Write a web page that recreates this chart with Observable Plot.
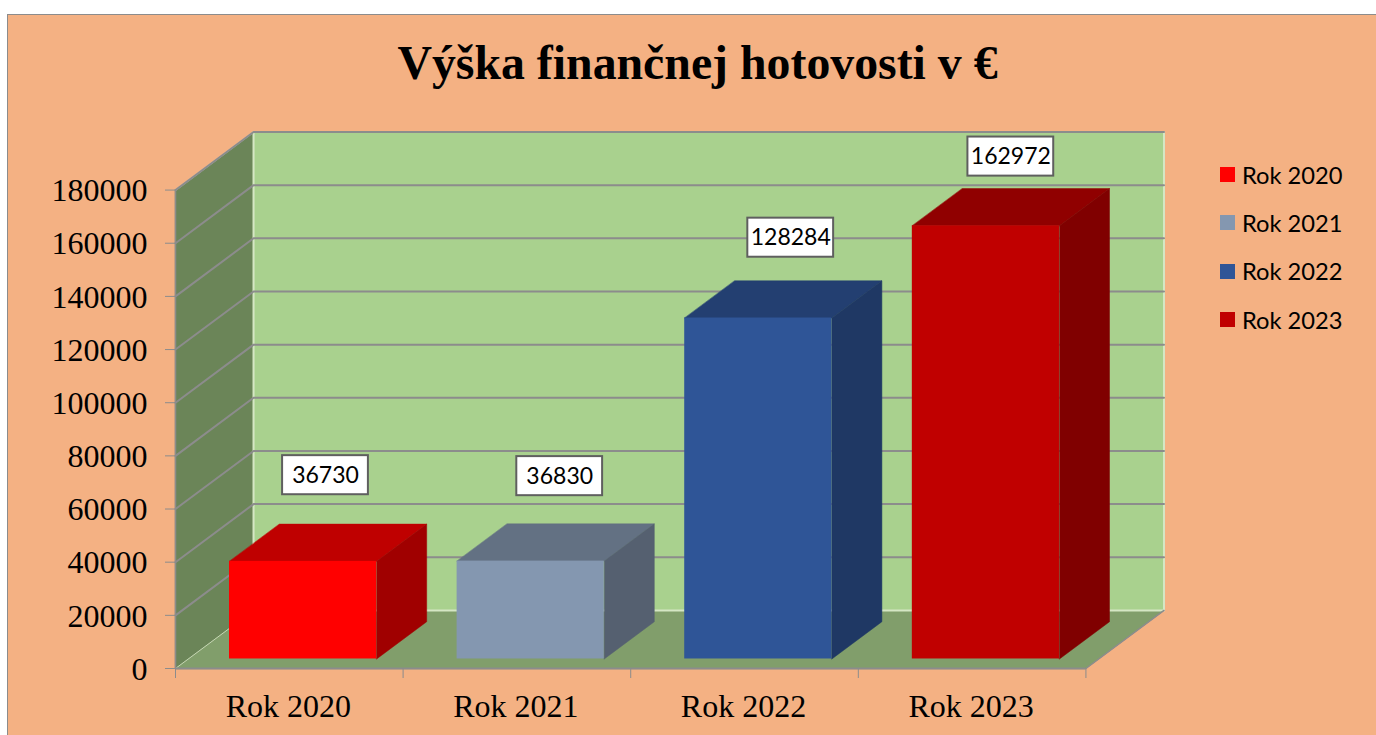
<!DOCTYPE html>
<html lang="sk">
<head>
<meta charset="utf-8">
<script src="https://cdn.jsdelivr.net/npm/d3@7"></script>
<script src="https://cdn.jsdelivr.net/npm/@observablehq/plot@0.6"></script>
<style>
  html, body { margin: 0; padding: 0; background: #fff; width: 1376px; height: 735px; overflow: hidden; }
  #page { position: relative; width: 1376px; height: 735px; }
  #panel { position: absolute; left: 7px; top: 14px; right: 0; bottom: 0; background: #F4B183; border-left: 1.5px solid #8c8c8c; border-top: 1.5px solid #8c8c8c; }
  #title { position: absolute; left: 0; width: 1395px; top: 35px; text-align: center; margin: 0; font: bold 47.8px "Liberation Serif", serif; color: #000; }
  #chart { position: absolute; left: 0; top: 0; }
  #legend { position: absolute; left: 1220px; top: 150.5px; font: 23.7px Lato, sans-serif; color: #000; }
  .item { display: flex; align-items: center; height: 48.3px; }
  .swatch { width: 15px; height: 15px; margin-right: 7px; }
</style>
</head>
<body>
<div id="page">
  <div id="panel"></div>
  <div id="chart"></div>
  <h1 id="title">Výška finančnej hotovosti v €</h1>
  <div id="legend"></div>
</div>
<script>
// Data
const categories = ["Rok 2020", "Rok 2021", "Rok 2022", "Rok 2023"];
const values = [36730, 36830, 128284, 162972];
const frontColors = ["#FF0000", "#8497B0", "#2F5597", "#C00000"];
const topColors = ["#BF0000", "#637183", "#233F71", "#900000"];
const sideColors = ["#A00000", "#556070", "#1F3864", "#800000"];
const yTicks = [0, 20000, 40000, 60000, 80000, 100000, 120000, 140000, 160000, 180000];
// Label placement relative to its bar (data units)
const labelOffsetX = [0.659, 0.688, 0.703, 0.670];
const labelOffsetY = [36000, 35540, 33800, 29630];

// 3D depth in data units
const depthX = 0.343, depthY = 21850, yMax = 180000, nCat = categories.length;
const barStart = 0.181, barWidth = 0.6465, depthFront = 0.164, depthBack = 0.805;
const boxW = 0.1885, boxH = 7350;

const poly = (id, fill, pts) => pts.map(([c, v, d]) => ({id, fill, x: c + d * depthX, y: v + d * depthY}));

const leftWall = poly("left", "#6B8558", [[0, 0, 0], [0, 0, 1], [0, yMax, 1], [0, yMax, 0]]);
const floor = poly("floor", "#819E6B", [[0, 0, 0], [0, 0, 1], [nCat, 0, 1], [nCat, 0, 0]]);
const backWall = poly("back", "#A9D18E", [[0, 0, 1], [nCat, 0, 1], [nCat, yMax, 1], [0, yMax, 1]]);

const barFaces = values.flatMap((v, i) => {
  const l = i + barStart, r = l + barWidth;
  return [
    ...poly("top" + i, topColors[i], [[l, v, depthFront], [r, v, depthFront], [r, v, depthBack], [l, v, depthBack]]),
    ...poly("side" + i, sideColors[i], [[r, 0, depthFront], [r, 0, depthBack], [r, v, depthBack], [r, v, depthFront]])
  ];
});
const barFronts = values.map((v, i) => ({
  x1: i + barStart + depthFront * depthX,
  x2: i + barStart + barWidth + depthFront * depthX,
  y1: depthFront * depthY,
  y2: v + depthFront * depthY,
  fill: frontColors[i]
}));
const gridLines = yTicks.filter((t) => t > 0).flatMap((t) => [
  {t, x: 0, y: t},
  {t, x: depthX, y: t + depthY},
  {t, x: nCat + depthX, y: t + depthY}
]);
const labels = values.map((v, i) => ({x: i + labelOffsetX[i], y: v + labelOffsetY[i], text: String(v)}));

const light = "#D5E6C4", grey = "#8C8C8C";
const serif = '"Liberation Serif", serif';

const chart = Plot.plot({
  width: 1376,
  height: 735,
  marginLeft: 175,
  marginRight: 212.5,
  marginTop: 131.5,
  marginBottom: 67,
  style: {background: "transparent", fontFamily: serif, fontSize: "32px", color: "#000"},
  x: {domain: [0, nCat + depthX], label: null},
  y: {domain: [0, yMax + depthY], label: null},
  color: {type: "identity"},
  marks: [
    Plot.line([...leftWall, ...floor, ...backWall], {x: "x", y: "y", z: "id", fill: "fill", stroke: "fill", strokeWidth: 0.5, curve: "linear-closed"}),
    Plot.line([{x: 0, y: yMax}, {x: depthX, y: yMax + depthY}], {x: "x", y: "y", stroke: light, strokeWidth: 1.5}),
    Plot.line([{x: depthX, y: yMax + depthY}, {x: depthX, y: depthY}, {x: nCat + depthX, y: depthY}, {x: nCat + depthX, y: yMax + depthY}], {x: "x", y: "y", stroke: light, strokeWidth: 2}),
    Plot.line([{x: 0, y: 0}, {x: depthX, y: depthY}], {x: "x", y: "y", stroke: "#C4D6B4", strokeWidth: 1}),
    Plot.line(gridLines, {x: "x", y: "y", z: "t", stroke: grey, strokeWidth: 2}),
    Plot.line(barFaces, {x: "x", y: "y", z: "id", fill: "fill", stroke: "fill", strokeWidth: 0.5, curve: "linear-closed"}),
    Plot.rect(barFronts, {x1: "x1", x2: "x2", y1: "y1", y2: "y2", fill: "fill"}),
    Plot.ruleX([0], {y1: 0, y2: yMax, stroke: grey, strokeWidth: 1.5}),
    Plot.ruleY([0], {x1: 0, x2: nCat, stroke: grey, strokeWidth: 2}),
    Plot.line([{x: nCat, y: 0}, {x: nCat + depthX, y: depthY}], {x: "x", y: "y", stroke: grey, strokeWidth: 1.5}),
    Plot.axisY({ticks: yTicks, tickSize: 10, stroke: grey, label: null, tickFormat: () => ""}),
    Plot.axisY({ticks: yTicks, tickSize: 0, tickPadding: 28, dy: 1, fill: "#000", label: null, tickFormat: (d) => String(d)}),
    Plot.axisX({ticks: d3.range(nCat + 1), tickSize: 10, stroke: grey, tickFormat: () => "", label: null}),
    Plot.text(categories, {x: (d, i) => i + 0.5, y: 0, dx: -1, dy: 38, text: (d) => d, fill: "#000"}),
    Plot.rect(labels, {x1: (d) => d.x - boxW, x2: (d) => d.x + boxW, y1: (d) => d.y - boxH, y2: (d) => d.y + boxH, fill: "#fff", stroke: "#5F5F5F", strokeWidth: 2}),
    Plot.text(labels, {x: "x", y: "y", text: "text", fontFamily: "Lato, sans-serif", fontSize: 23, fill: "#000"})
  ]
});
document.getElementById("chart").appendChild(chart);

const legend = document.getElementById("legend");
categories.forEach((c, i) => {
  const row = document.createElement("div");
  row.className = "item";
  const sw = document.createElement("span");
  sw.className = "swatch";
  sw.style.background = frontColors[i];
  const t = document.createElement("span");
  t.textContent = c;
  row.append(sw, t);
  legend.append(row);
});
</script>
</body>
</html>
